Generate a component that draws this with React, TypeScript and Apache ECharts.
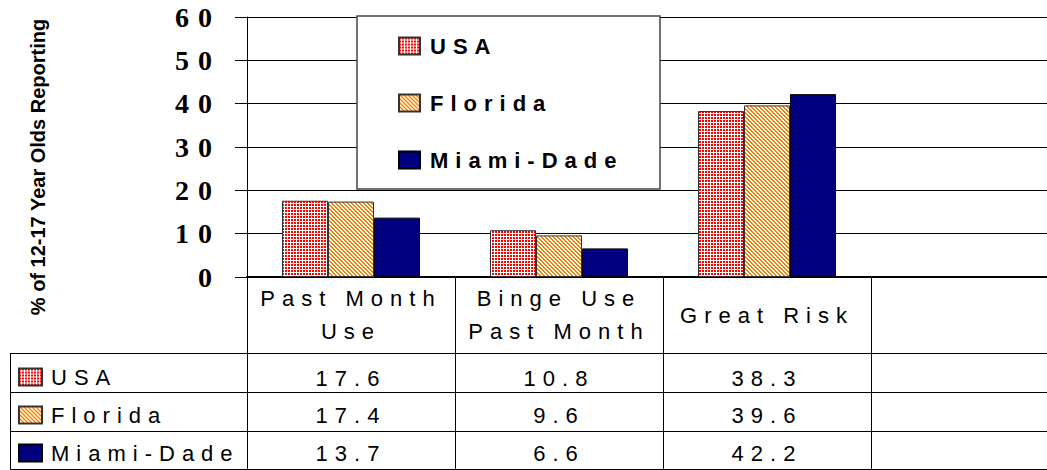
import React, { useEffect, useRef } from 'react';
import * as echarts from 'echarts';

const categories = ['Past Month\nUse', 'Binge Use\nPast Month', 'Great Risk', ''];
const seriesNames = ['USA', 'Florida', 'Miami-Dade'];
const usaValues = [17.6, 10.8, 38.3];
const floridaValues = [17.4, 9.6, 39.6];
const miamiValues = [13.7, 6.6, 42.2];
const yMin = 0;
const yMax = 60;
const yInterval = 10;
const axisTitle = '% of 12-17 Year Olds Reporting';

function makePattern(kind: string) {
  const c = document.createElement('canvas');
  const n = kind === 'grid' ? 3 : 4;
  c.width = n;
  c.height = n;
  const ctx = c.getContext('2d')!;
  ctx.fillStyle = '#ffffff';
  ctx.fillRect(0, 0, n, n);
  if (kind === 'grid') {
    ctx.fillStyle = '#ff0000';
    ctx.fillRect(0, 0, 2, 2);
  } else {
    ctx.fillStyle = '#ff8000';
    for (let y = 0; y < n; y++) {
      for (let x = 0; x < n; x++) {
        if ((((x - y) % 4) + 4) % 4 < 2) ctx.fillRect(x, y, 1, 1);
      }
    }
  }
  return { image: c, repeat: 'repeat', imageWidth: n, imageHeight: n } as any;
}

const css = `
#chart text[style*="22px"] { letter-spacing: 7px; }
#chart text[style*="Liberation Serif"] { letter-spacing: 9px; }
`;

export default function App() {
  const ref = useRef<HTMLDivElement>(null);
  useEffect(() => {
    if (!ref.current) return;
    const chart = echarts.init(ref.current, undefined, { renderer: 'svg' });
    const values = [usaValues, floridaValues, miamiValues];
    const colors = [makePattern('grid'), makePattern('diag'), '#000080'];
    const rowMargins = [101, 138, 176];
    const sans = 'Liberation Sans';
    const tableText = { fontFamily: sans, fontSize: 22, color: '#000' };

    const option: any = {
      animation: false,
      backgroundColor: '#fff',
      grid: { left: 247, width: 832, top: 17, height: 260, containLabel: false, outerBoundsMode: 'none' },
      xAxis: [
        {
          type: 'category',
          data: categories,
          position: 'bottom',
          axisLine: { show: true, lineStyle: { color: '#000', width: 2 } },
          axisTick: { show: true, length: 192, alignWithLabel: false, lineStyle: { color: '#000', width: 1 } },
          axisLabel: { interval: 0, margin: 38, verticalAlign: 'middle', lineHeight: 33, ...tableText },
          splitLine: { show: false },
        },
        ...values.map((vals, r) => ({
          type: 'category',
          data: categories,
          position: 'bottom',
          axisLine: { show: false },
          axisTick: { show: false },
          splitLine: { show: false },
          axisLabel: {
            interval: 0,
            margin: rowMargins[r],
            verticalAlign: 'middle',
            ...tableText,
            formatter: (_v: string, idx: number) => (vals[idx] != null ? vals[idx].toFixed(1) : ''),
          },
        })),
      ],
      yAxis: {
        type: 'value',
        min: yMin,
        max: yMax,
        interval: yInterval,
        axisLine: { show: true, lineStyle: { color: '#000', width: 1 } },
        axisTick: { show: true, length: 12, lineStyle: { color: '#000', width: 1 } },
        splitLine: { show: true, lineStyle: { color: '#000', width: 1 } },
        axisLabel: { margin: 26, fontFamily: 'Liberation Serif', fontWeight: 'bold', fontSize: 28, color: '#000' },
      },
      legend: [
        {
          data: seriesNames,
          orient: 'vertical',
          left: 398,
          top: 35,
          padding: 0,
          itemWidth: 21,
          itemHeight: 17,
          itemGap: 35,
          icon: 'rect',
          selectedMode: false,
          z: 5,
          textStyle: { fontFamily: sans, fontSize: 22, fontWeight: 'bold', color: '#000', padding: [0, 0, 0, 5] },
        },
        {
          data: seriesNames,
          orient: 'vertical',
          left: 18,
          top: 366,
          padding: 0,
          itemWidth: 23,
          itemHeight: 17,
          itemGap: 16,
          icon: 'rect',
          selectedMode: false,
          z: 5,
          textStyle: { fontFamily: sans, fontSize: 22, color: '#000', padding: [0, 0, 0, 4] },
        },
      ],
      series: seriesNames.map((name, i) => ({
        type: 'bar',
        name,
        data: values[i],
        barWidth: 46,
        barGap: '0%',
        itemStyle: { color: colors[i], borderColor: i === 2 ? '#000' : '#333', borderWidth: 1 },
      })),
      graphic: [
        {
          type: 'rect',
          z: 3,
          shape: { x: 357, y: 16, width: 303, height: 173 },
          style: { fill: '#fff', stroke: '#444', lineWidth: 1.5 },
        },
        {
          type: 'text',
          x: 38,
          y: 167,
          rotation: Math.PI / 2,
          style: {
            text: axisTitle,
            fontFamily: sans,
            fontSize: 20,
            fontWeight: 'bold',
            fill: '#000',
            align: 'center',
            verticalAlign: 'middle',
          },
        },
        ...[353.5, 392.5, 431.5, 469.5].map((y) => ({
          type: 'line',
          shape: { x1: 10, y1: y, x2: 1047, y2: y },
          style: { stroke: '#000', lineWidth: 1 },
        })),
        {
          type: 'line',
          shape: { x1: 10.5, y1: 353.5, x2: 10.5, y2: 469.5 },
          style: { stroke: '#000', lineWidth: 1 },
        },
      ],
    };
    chart.setOption(option);
    return () => chart.dispose();
  }, []);
  return (
    <>
      <style>{css}</style>
      <div
        id="chart"
        ref={ref}
        style={{ position: 'absolute', left: 0, top: 0, width: 1047, height: 470, background: '#fff' }}
      />
    </>
  );
}
